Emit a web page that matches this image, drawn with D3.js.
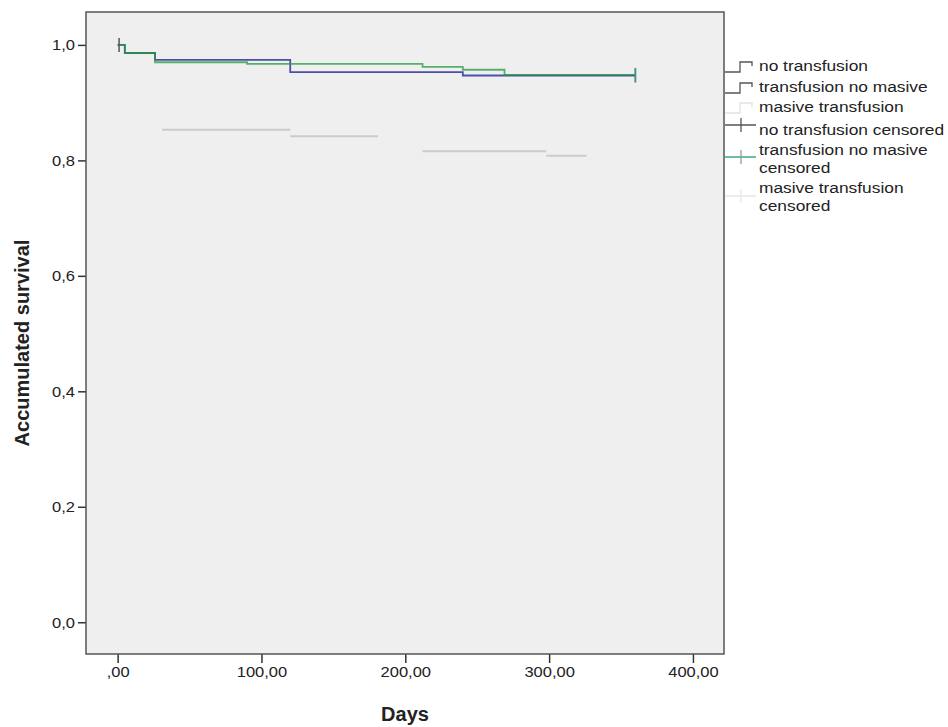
<!DOCTYPE html>
<html>
<head>
<meta charset="utf-8">
<script src="https://cdn.jsdelivr.net/npm/d3@7"></script>
<style>
  body { margin: 0; background: #fff; }
  text { font-family: Arial, "Liberation Sans", sans-serif; fill: #222; }
</style>
</head>
<body>
<script>
// Kaplan-Meier style survival curves
var daysNoTransf = [0, 5, 26, 120, 240, 360];
var survNoTransf = [1, 0.986, 0.974, 0.953, 0.947, 0.947];

var daysTransfNoMas = [0, 5, 26, 90, 212, 240, 269, 360];
var survTransfNoMas = [1, 0.986, 0.970, 0.967, 0.962, 0.957, 0.948, 0.948];

// masive transfusion: only the (washed out) flat stretches are visible
var masStart = [31, 120, 212, 298];
var masEnd = [120, 181, 298, 326];
var masSurv = [0.853, 0.842, 0.816, 0.808];

// censored observations [day, survival]
var censNoTransf = [[1, 1.0], [360, 0.947]];
var censTransfNoMas = [[360, 0.948]];

var xTicks = [0, 100, 200, 300, 400];
var xTickLabels = [",00", "100,00", "200,00", "300,00", "400,00"];
var yTicks = [0, 0.2, 0.4, 0.6, 0.8, 1.0];
var yTickLabels = ["0,0", "0,2", "0,4", "0,6", "0,8", "1,0"];

var legendLabels = [
  ["no transfusion"],
  ["transfusion no masive"],
  ["masive transfusion"],
  ["no transfusion censored"],
  ["transfusion no masive", "censored"],
  ["masive transfusion", "censored"]
];

var svg = d3.select("body").append("svg")
    .attr("width", 948)
    .attr("height", 727);

var x = d3.scaleLinear().domain([-22, 421.6]).range([86, 724]);
var y = d3.scaleLinear().domain([-0.055, 1.057]).range([654, 12]);

// plot background
svg.append("rect")
   .attr("x", 86).attr("y", 12)
   .attr("width", 638).attr("height", 642)
   .attr("fill", "#efefef");

var xAxis = d3.axisBottom(x)
    .tickValues(xTicks)
    .tickFormat(function(d, i) { return xTickLabels[i]; })
    .tickSize(9).tickSizeOuter(0);

var yAxis = d3.axisLeft(y)
    .tickValues(yTicks)
    .tickFormat(function(d, i) { return yTickLabels[i]; })
    .tickSize(8).tickSizeOuter(0);

var gx = svg.append("g").attr("transform", "translate(0,654)").call(xAxis);
var gy = svg.append("g").attr("transform", "translate(86,0)").call(yAxis);

gx.select(".domain").remove();
gy.select(".domain").remove();
gx.selectAll("line").attr("stroke", "#333").attr("stroke-width", 1.5);
gy.selectAll("line").attr("stroke", "#333").attr("stroke-width", 1.5);
gx.selectAll("text")
  .attr("font-size", 15).attr("y", 12).attr("fill", "#222")
  .attr("transform", "scale(1.1,1)");
gy.selectAll("text")
  .attr("font-size", 15).attr("x", -10).attr("fill", "#222")
  .attr("transform", "scale(1.1,1)");

// frame
svg.append("rect")
   .attr("x", 86).attr("y", 12)
   .attr("width", 638).attr("height", 642)
   .attr("fill", "none")
   .attr("stroke", "#555")
   .attr("stroke-width", 1.5);

// curves
var line = d3.line()
    .x(function(d) { return x(d[0]); })
    .y(function(d) { return y(d[1]); })
    .curve(d3.curveStepAfter);

function pairs(days, surv) {
  return days.map(function(d, i) { return [d, surv[i]]; });
}

svg.selectAll(null)
   .data(masSurv)
   .enter()
   .append("line")
   .attr("x1", function(d, i) { return x(masStart[i]); })
   .attr("x2", function(d, i) { return x(masEnd[i]); })
   .attr("y1", function(d) { return y(d); })
   .attr("y2", function(d) { return y(d); })
   .attr("stroke", "#cbcbcb")
   .attr("stroke-width", 2);

svg.append("path")
   .attr("d", line(pairs(daysNoTransf, survNoTransf)))
   .attr("fill", "none")
   .attr("stroke", "#4b50a8")
   .attr("stroke-width", 1.8);

svg.append("path")
   .attr("d", line(pairs(daysTransfNoMas, survTransfNoMas)))
   .attr("fill", "none")
   .attr("stroke", "#239a3e")
   .attr("stroke-opacity", 0.75)
   .attr("stroke-width", 1.8);

// censor ticks
function censor(data, color) {
  svg.selectAll(null)
     .data(data)
     .enter()
     .append("line")
     .attr("x1", function(d) { return x(d[0]); })
     .attr("x2", function(d) { return x(d[0]); })
     .attr("y1", function(d) { return y(d[1]) - 7; })
     .attr("y2", function(d) { return y(d[1]) + 7; })
     .attr("stroke", color)
     .attr("stroke-width", 1.5);
}
censor(censNoTransf, "#555");
censor(censTransfNoMas, "#3a9a80");

// axis titles
svg.append("text")
   .attr("x", 405).attr("y", 721)
   .attr("text-anchor", "middle")
   .attr("font-size", 20).attr("font-weight", "bold")
   .text("Days");

svg.append("text")
   .attr("transform", "translate(29,343) rotate(-90)")
   .attr("text-anchor", "middle")
   .attr("font-size", 20).attr("font-weight", "bold")
   .text("Accumulated survival");

// legend
var legendY = [66, 87, 107, 130, 150, 188];
var legend = svg.append("g");

legendLabels.forEach(function(lines, i) {
  lines.forEach(function(t, j) {
    legend.append("text")
      .attr("transform", "translate(759," + (legendY[i] + 5 + j * 18) + ") scale(1.12,1)")
      .attr("font-size", 15.5)
      .text(t);
  });
});

// step symbols
function stepSymbol(cy, color) {
  legend.append("path")
    .attr("d", "M725," + (cy + 6) + "H740V" + (cy - 4) + "H752V" + (cy))
    .attr("fill", "none")
    .attr("stroke", color)
    .attr("stroke-width", 1.3);
}
stepSymbol(legendY[0], "#555");
stepSymbol(legendY[1], "#555");
stepSymbol(legendY[2], "#e2e2e2");

function censSymbol(cy, color, tickColor) {
  legend.append("line")
    .attr("x1", 725).attr("x2", 756)
    .attr("y1", cy).attr("y2", cy)
    .attr("stroke", color).attr("stroke-width", 1.5);
  legend.append("line")
    .attr("x1", 741).attr("x2", 741)
    .attr("y1", cy - 7).attr("y2", cy + 7)
    .attr("stroke", tickColor).attr("stroke-width", 1.3);
}
censSymbol(125, "#555", "#555");
censSymbol(157, "#3aa88a", "#999");
censSymbol(196, "#e6e6e6", "#e6e6e6");
</script>
</body>
</html>
